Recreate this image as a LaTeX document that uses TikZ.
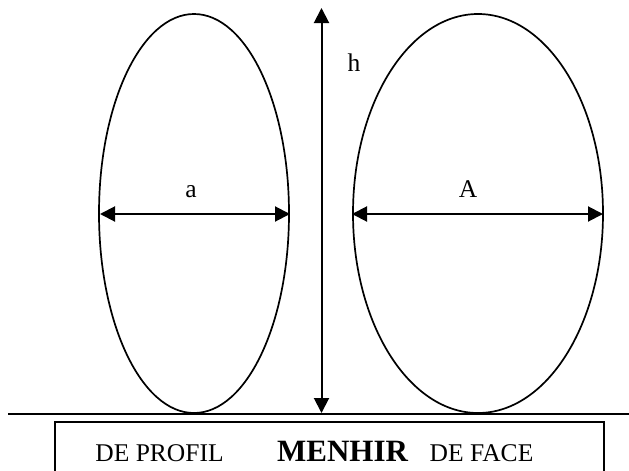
\documentclass[tikz,border=0pt]{standalone}
\usepackage{fontspec}
\setmainfont{Liberation Serif}
\usetikzlibrary{arrows.meta}
\begin{document}
\begin{tikzpicture}[x=1pt,y=-1pt,
  outline/.style={line width=1.7pt},
  dim/.style={line width=2pt,{Triangle[length=15pt,width=15pt]}-{Triangle[length=15pt,width=15pt]}},
  lbl/.style={inner sep=0pt,anchor=base,font=\fontsize{25.5pt}{28pt}\selectfont},
  blbl/.style={inner sep=0pt,anchor=base,font=\fontsize{31pt}{34pt}\selectfont\bfseries}]
\useasboundingbox (0,0) rectangle (629,471);
% ellipses
\draw[outline] (194,213.5) ellipse [x radius=95, y radius=199.5];
\draw[outline] (478,213.5) ellipse [x radius=125, y radius=199.5];
% ground and box
\coordinate (g1) at (8,414);
\coordinate (g2) at (629,414);
\draw[outline] (g1) -- (g2);
\coordinate (b1) at (55,472);
\coordinate (b2) at (55,422);
\coordinate (b3) at (604,422);
\coordinate (b4) at (604,472);
\draw[outline] (b1) -- (b2) -- (b3) -- (b4);
% dimension arrows
\coordinate (hT) at (321.5,8);
\coordinate (hB) at (321.5,413);
\draw[dim] (hT) -- (hB);
\coordinate (aL) at (100,214);
\coordinate (aR) at (290,214);
\draw[dim] (aL) -- (aR);
\coordinate (AL) at (352,214);
\coordinate (AR) at (603,214);
\draw[dim] (AL) -- (AR);
% labels
\node[lbl] (la) at (191,197) {a};
\node[lbl] (lA) at (468,197) {A};
\node[lbl] (lh) at (354,71) {h};
\node[lbl] (lp) at (159.5,461) {DE PROFIL};
\node[blbl] (lm) at (342.5,461) {MENHIR};
\node[lbl] (lf) at (481.5,461) {DE FACE};
\end{tikzpicture}
\end{document}
